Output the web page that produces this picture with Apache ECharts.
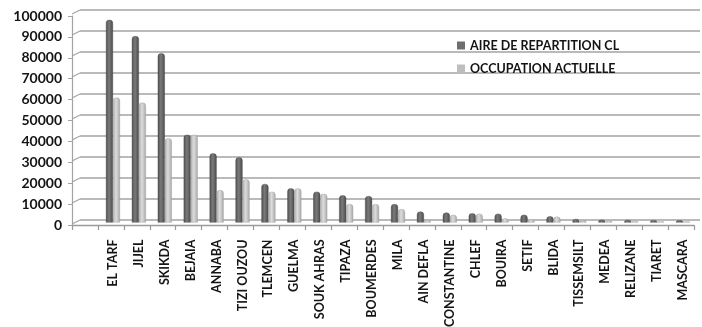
<!DOCTYPE html>
<html>
<head>
<meta charset="utf-8">
<title>Aire de répartition et occupation actuelle par wilaya</title>
<script src="https://cdn.jsdelivr.net/npm/echarts@6/dist/echarts.min.js"></script>
<style>
  html, body { margin: 0; padding: 0; background: #fff; }
  #chart { width: 702px; height: 327px; }
</style>
</head>
<body>
<div id="chart"></div>
<script>
// Wilayas, in decreasing order of distribution area
const wilayas = ['EL TARF', 'JIJEL', 'SKIKDA', 'BEJAIA', 'ANNABA', 'TIZI OUZOU', 'TLEMCEN',
  'GUELMA', 'SOUK AHRAS', 'TIPAZA', 'BOUMERDES', 'MILA', 'AIN DEFLA', 'CONSTANTINE',
  'CHLEF', 'BOUIRA', 'SETIF', 'BLIDA', 'TISSEMSILT', 'MEDEA', 'RELIZANE', 'TIARET', 'MASCARA'];

const aireRepartition = [96700, 89000, 80800, 41900, 33000, 31100, 18400, 16300, 14700, 13000,
  12600, 8800, 5200, 4700, 4400, 4200, 3700, 3000, 1700, 1300, 1200, 1100, 1000];

const occupationActuelle = [59600, 57200, 40200, 41900, 15500, 20600, 14700, 16300, 13700, 8800,
  8800, 6400, 1200, 3700, 4200, 2000, 1500, 2800, 900, 700, 600, 500, 500];

const seriesNames = ['AIRE DE REPARTITION CL', 'OCCUPATION ACTUELLE'];

const yMax = 100000;
const yStep = 10000;
const yTicks = [];
for (let v = 0; v <= yMax; v += yStep) yTicks.push(v);

const FONT = 'Lato';
const TEXT = '#141414';

// cylinder-like shading across each column
function shade(edge, mid, edge2) {
  return {
    type: 'linear', x: 0, y: 0, x2: 1, y2: 0,
    colorStops: [
      { offset: 0, color: edge },
      { offset: 0.45, color: mid },
      { offset: 1, color: edge2 }
    ]
  };
}

const chart = echarts.init(document.getElementById('chart'), null, { renderer: 'canvas' });

chart.setOption({
  animation: false,
  backgroundColor: '#fff',
  grid: [
    // back wall (gridlines)
    { left: 80, right: 2, top: 10, bottom: 107, outerBoundsMode: 'none' },
    // columns
    { left: 100, right: 6, top: 13, bottom: 104.5, outerBoundsMode: 'none' },
    // front edge: value labels and floor
    { left: 72, right: 8, top: 16, bottom: 102, outerBoundsMode: 'none' }
  ],
  legend: {
    data: [
      { name: seriesNames[0], itemStyle: { color: '#6e6e6e', borderWidth: 0 } },
      { name: seriesNames[1], itemStyle: { color: '#bebebe', borderWidth: 0 } }
    ],
    orient: 'vertical',
    left: 452,
    top: 34,
    itemWidth: 8,
    itemHeight: 8,
    itemGap: 10,
    icon: 'rect',
    textStyle: { fontFamily: FONT, fontWeight: 'bold', fontSize: 12.5, color: TEXT }
  },
  xAxis: [
    { gridIndex: 0, type: 'value', min: 0, max: 1, show: false },
    {
      gridIndex: 1, type: 'category', data: wilayas,
      axisLine: { show: false }, axisTick: { show: false },
      axisLabel: {
        rotate: 90, margin: 17, interval: 0,
        fontFamily: FONT, fontWeight: 'bold', fontSize: 12.5, color: TEXT
      }
    },
    {
      gridIndex: 2, type: 'value', min: 0, max: wilayas.length + 1, interval: 1,
      axisLine: { show: true, lineStyle: { color: '#9a9a9a', width: 1.3 } },
      axisTick: { show: true, length: 5, lineStyle: { color: '#9a9a9a', width: 1.2 } },
      axisLabel: { show: false },
      splitLine: { show: false }
    }
  ],
  yAxis: [
    {
      gridIndex: 0, type: 'value', min: 0, max: yMax, interval: yStep,
      axisLine: { show: false }, axisTick: { show: false }, axisLabel: { show: false },
      splitLine: { show: true, lineStyle: { color: '#a3a3a3', width: 1.6 } }
    },
    { gridIndex: 1, type: 'value', min: 0, max: yMax, interval: yStep, show: false },
    {
      gridIndex: 2, type: 'value', min: 0, max: yMax, interval: yStep,
      axisLine: { show: true, lineStyle: { color: '#a3a3a3', width: 1.2 } },
      axisTick: { show: true, length: 4, lineStyle: { color: '#a3a3a3' } },
      axisLabel: {
        margin: 10, fontFamily: FONT, fontWeight: 'bold', fontSize: 14, color: TEXT,
        formatter: v => String(v)
      },
      splitLine: { show: false }
    }
  ],
  series: [
    {
      // left side wall: short slanted segments joining the front edge to the back gridlines
      type: 'custom',
      xAxisIndex: 0, yAxisIndex: 0,
      silent: true,
      data: yTicks.map(v => [0, v]),
      renderItem: function (params, api) {
        const p = api.coord([0, api.value(1)]);
        return {
          type: 'line',
          shape: { x1: p[0], y1: p[1], x2: p[0] - 8, y2: p[1] + 4 },
          style: { stroke: '#a3a3a3', lineWidth: 1.2 }
        };
      }
    },
    {
      name: seriesNames[0],
      type: 'bar',
      xAxisIndex: 1, yAxisIndex: 1,
      data: aireRepartition,
      barWidth: 7,
      barGap: '0%',
      itemStyle: {
        color: shade('#505050', '#7a7a7a', '#4a4a4a'),
        borderColor: '#444', borderWidth: 0.4,
        borderRadius: [3, 3, 0, 0]
      }
    },
    {
      name: seriesNames[1],
      type: 'bar',
      xAxisIndex: 1, yAxisIndex: 1,
      data: occupationActuelle,
      barWidth: 7,
      barGap: '0%',
      itemStyle: {
        color: shade('#b0b0b0', '#dcdcdc', '#a8a8a8'),
        borderColor: '#999', borderWidth: 0.4,
        borderRadius: [3, 3, 0, 0]
      }
    }
  ]
});
</script>
</body>
</html>
